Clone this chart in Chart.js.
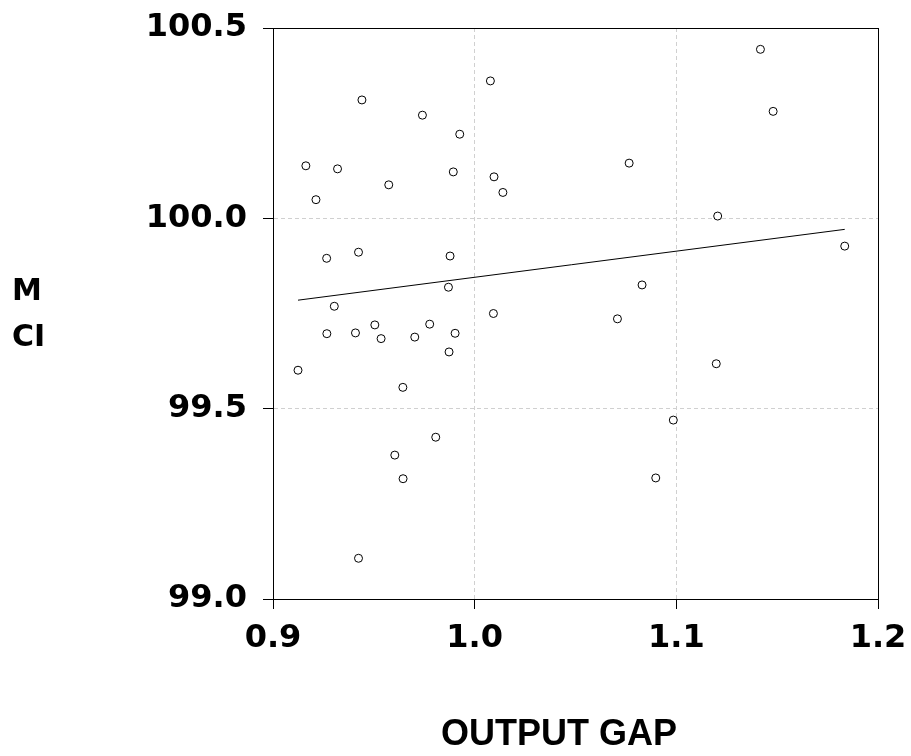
<!DOCTYPE html>
<html>
<head>
<meta charset="utf-8">
<script src="https://cdn.jsdelivr.net/npm/chart.js@4/dist/chart.umd.min.js"></script>
<style>
html,body{margin:0;padding:0;background:#fff;}
canvas{display:block;}
</style>
</head>
<body>
<canvas id="c" width="911" height="756"></canvas>
<script>
// Output gap (x) vs MCI (y)
const outputGap = [1.0078,0.9441,0.9741,0.9926,0.9163,0.9320,0.9894,1.0096,0.9574,1.0140,
  0.9213,0.9266,0.9424,0.9878,0.9870,0.9304,1.0093,0.9267,0.9409,0.9505,
  0.9536,0.9703,0.9777,0.9903,0.9873,0.9124,0.9644,0.9807,0.9604,0.9645,
  0.9424,1.1417,1.1480,1.0766,1.1205,1.1835,1.0830,1.0708,1.1198,1.0985,1.0898];
const mci = [100.361,100.311,100.271,100.221,100.138,100.130,100.122,100.109,100.088,100.068,
  100.049,99.895,99.911,99.901,99.819,99.769,99.750,99.697,99.699,99.720,
  99.684,99.688,99.722,99.698,99.649,99.601,99.556,99.425,99.378,99.316,
  99.107,100.444,100.281,100.145,100.006,99.927,99.825,99.736,99.618,99.470,99.318];
// Regression line end points
const fitX = [0.9124, 1.1835];
const fitY = [99.785, 99.971];
// Tick values
const xTicks = [0.9, 1.0, 1.1, 1.2];
const yTicks = [99.0, 99.5, 100.0, 100.5];
const xTitle = 'OUTPUT GAP';
const yTitle = ['M', 'CI'];

const scatterData = outputGap.map((x, i) => ({x: x, y: mci[i]}));
const lineData = fitX.map((x, i) => ({x: x, y: fitY[i]}));

const tickFont = {family: '"DejaVu Sans"', size: 32, weight: 'bold'};

const framePlugin = {
  id: 'frame',
  afterDraw(chart) {
    const ctx = chart.ctx, a = chart.chartArea;
    ctx.save();
    ctx.strokeStyle = '#000';
    ctx.lineWidth = 1;
    ctx.strokeRect(Math.round(a.left) + 0.5, Math.round(a.top) + 0.5,
      Math.round(a.right - a.left), Math.round(a.bottom - a.top));
    ctx.fillStyle = '#000';
    ctx.font = 'bold 36px "Liberation Sans"';
    ctx.textAlign = 'center';
    ctx.textBaseline = 'alphabetic';
    ctx.fillText(xTitle, 559, 745);
    ctx.font = 'bold 30px "DejaVu Sans"';
    ctx.textAlign = 'left';
    ctx.fillText(yTitle[0], 12, 300);
    ctx.fillText(yTitle[1], 12, 346);
    ctx.restore();
  }
};

new Chart(document.getElementById('c'), {
  type: 'scatter',
  data: {
    datasets: [
      {
        type: 'line',
        data: lineData,
        borderColor: '#000',
        borderWidth: 1,
        pointRadius: 0,
        fill: false,
        order: 2
      },
      {
        data: scatterData,
        pointStyle: 'circle',
        pointRadius: 4,
        borderWidth: 1,
        borderColor: '#000',
        backgroundColor: '#fff',
        order: 1
      }
    ]
  },
  options: {
    responsive: false,
    animation: false,
    devicePixelRatio: 1,
    layout: {padding: {left: 0, top: 28, right: 33, bottom: 0}},
    plugins: {legend: {display: false}, tooltip: {enabled: false}},
    scales: {
      x: {
        type: 'linear',
        min: 0.9, max: 1.2,
        afterBuildTicks: s => { s.ticks = xTicks.map(v => ({value: v})); },
        afterFit: s => { s.height = 157; s.paddingLeft = 0; s.paddingRight = 0; },
        ticks: {
          font: tickFont, color: '#000', padding: 10,
          callback: v => v.toFixed(1)
        },
        grid: {
          color: '#d0d0d0', lineWidth: 1,
          tickColor: '#000', tickLength: 10, tickWidth: 1
        },
        border: {display: true, color: '#000', width: 1, dash: [4, 3]}
      },
      y: {
        type: 'linear',
        min: 99.0, max: 100.5,
        afterBuildTicks: s => { s.ticks = yTicks.map(v => ({value: v})); },
        afterFit: s => { s.width = 273; s.paddingTop = 0; s.paddingBottom = 0; },
        ticks: {
          font: tickFont, color: '#000', padding: 16,
          callback: v => v.toFixed(1)
        },
        grid: {
          color: '#d0d0d0', lineWidth: 1,
          tickColor: '#000', tickLength: 10, tickWidth: 1
        },
        border: {display: true, color: '#000', width: 1, dash: [4, 3]}
      }
    }
  },
  plugins: [framePlugin]
});
</script>
</body>
</html>
